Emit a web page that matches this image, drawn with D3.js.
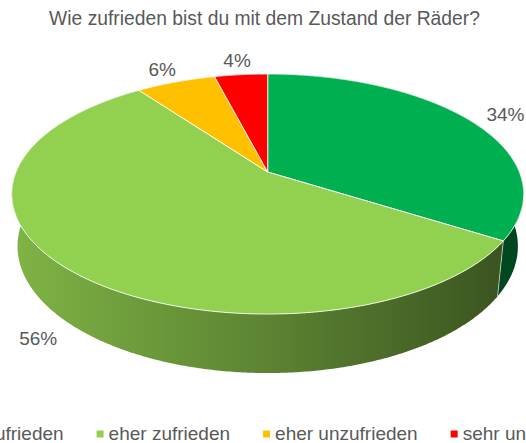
<!DOCTYPE html>
<html>
<head>
<meta charset="utf-8">
<script src="https://cdn.jsdelivr.net/npm/d3@7"></script>
<style>
  html, body { margin: 0; padding: 0; background: #fff; overflow: hidden; }
  svg { display: block; font-family: "Liberation Sans", Arial, sans-serif; }
</style>
</head>
<body>
<svg id="chart" width="526" height="443"></svg>
<script>
// Survey answers and their shares (percent)
const categories = ["sehr zufrieden", "eher zufrieden", "eher unzufrieden", "sehr unzufrieden"];
const values = [34, 56, 6, 4];
const colors = ["#00B050", "#92D050", "#FFC000", "#FF0000"];
const title = "Wie zufrieden bist du mit dem Zustand der Räder?";

const W = 526, H = 443;
const svg = d3.select("#chart");
const defs = svg.append("defs");
const textColor = "#595959";

// Perspective camera for the tilted 3D disc
const cx = 267.7, cy = 172;        // screen position of the disc centre
const tilt = 27.45 * Math.PI / 180;
const sa = Math.sin(tilt), ca = Math.cos(tilt);
const dist = 4.84;                  // camera distance in disc radii
const focal = 1218;
const thick = 0.236;                // disc height in disc radii

// theta: clockwise from 12 o'clock; r: radius; y: height (0 = top face)
function project(theta, r, y) {
  const x = r * Math.sin(theta), z = r * Math.cos(theta);
  const yc = y * ca + z * sa;
  const d = dist + z * ca - y * sa;
  return [cx + focal * x / d, cy - focal * yc / d];
}

const pie = d3.pie().sort(null).value(d => d)(values);
const line = d3.line();

function shade(hex, k) {
  const c = d3.rgb(hex);
  return d3.rgb(c.r * k, c.g * k, c.b * k).formatHex();
}

function arcPoints(a0, a1, r, y) {
  const n = Math.max(4, Math.ceil(Math.abs(a1 - a0) / (Math.PI / 360)));
  return d3.range(n + 1).map(j => project(a0 + (a1 - a0) * j / n, r, y));
}

// Side shading: lighter on the left, darker towards the right
const xLeft = project(-Math.PI / 2, 1, 0)[0], xRight = project(Math.PI / 2, 1, 0)[0];
colors.forEach((col, i) => {
  const g = defs.append("linearGradient")
    .attr("id", "wall" + i)
    .attr("gradientUnits", "userSpaceOnUse")
    .attr("x1", xLeft).attr("x2", xRight).attr("y1", 0).attr("y2", 0);
  g.append("stop").attr("offset", 0).attr("stop-color", shade(col, 0.86));
  g.append("stop").attr("offset", 0.5).attr("stop-color", shade(col, 0.63));
  g.append("stop").attr("offset", 1).attr("stop-color", shade(col, 0.39));
});

// Outer walls, far slices first
const wallOrder = pie.map((p, i) => ({ p, i, depth: Math.cos((p.startAngle + p.endAngle) / 2) }))
  .sort((a, b) => b.depth - a.depth);
svg.append("g").selectAll("path").data(wallOrder).join("path")
  .attr("d", w => line(arcPoints(w.p.startAngle, w.p.endAngle, 1, 0)
      .concat(arcPoints(w.p.endAngle, w.p.startAngle, 1, -thick))) + "Z")
  .attr("fill", w => `url(#wall${w.i})`);

// Seams between walls on the front side
svg.append("g").selectAll("line")
  .data(pie.filter(p => Math.cos(p.startAngle) < 0))
  .join("line")
  .attr("x1", p => project(p.startAngle, 1, 0)[0])
  .attr("y1", p => project(p.startAngle, 1, 0)[1])
  .attr("x2", p => project(p.startAngle, 1, -thick)[0])
  .attr("y2", p => project(p.startAngle, 1, -thick)[1])
  .attr("stroke", "rgba(255,255,255,0.55)")
  .attr("stroke-width", 1);

// Top faces
svg.append("g").selectAll("path").data(pie).join("path")
  .attr("d", p => line([project(0, 0, 0)].concat(arcPoints(p.startAngle, p.endAngle, 1, 0))) + "Z")
  .attr("fill", (p, i) => colors[i])
  .attr("stroke", "rgba(255,255,255,0.85)")
  .attr("stroke-width", 1)
  .attr("stroke-linejoin", "round");

// Data labels outside the rim, front labels below the wall
const labelSize = 19, capH = labelSize * 0.716;
const labels = svg.append("g").attr("fill", textColor)
  .style("font-size", labelSize + "px");
pie.forEach((p, i) => {
  const t = (p.startAngle + p.endAngle) / 2;
  const s = Math.sin(t), c = Math.cos(t);
  const a = project(t, 1.1, c < -0.3 ? -thick : 0);
  const txt = labels.append("text").attr("text-anchor", "middle").text(p.data + "%");
  const w = txt.node().getComputedTextLength();
  const lx = a[0] + s * w / 2;
  const ly = a[1] - Math.max(c, 0) * c * capH / 2;
  txt.attr("x", lx).attr("y", ly + capH / 2);
});

// Title
svg.append("text")
  .attr("x", 264.5).attr("y", 25)
  .attr("text-anchor", "middle")
  .attr("fill", textColor)
  .style("font-size", "19.3px")
  .text(title);

// Legend along the bottom, centred under the disc
const legendSize = 19, box = 7, boxGap = 5, itemGap = 33, legendY = 440;
const lg = svg.append("g").style("font-size", legendSize + "px");
const items = lg.selectAll("g").data(categories).join("g");
items.append("rect")
  .attr("width", box).attr("height", box)
  .attr("y", legendY - 9.5)
  .attr("fill", (d, i) => colors[i]);
items.append("text")
  .attr("x", box + boxGap).attr("y", legendY)
  .attr("fill", textColor)
  .text(d => d);
const widths = items.nodes().map(n => d3.select(n).select("text").node().getComputedTextLength());
const total = widths.reduce((s, w) => s + box + boxGap + w, 0) + itemGap * (widths.length - 1);
let x0 = cx - total / 2;
items.attr("transform", (d, i) => {
  const x = x0;
  x0 += box + boxGap + widths[i] + itemGap;
  return `translate(${x},0)`;
});
</script>
</body>
</html>
